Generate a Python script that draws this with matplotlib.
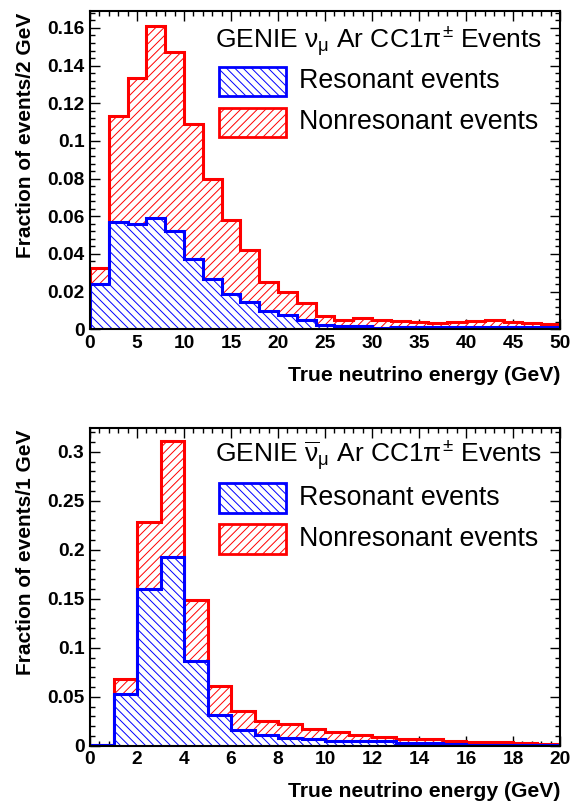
import numpy as np
import matplotlib
matplotlib.use("Agg")
import matplotlib.pyplot as plt
from matplotlib.patches import Rectangle
from matplotlib.ticker import MultipleLocator

plt.rcParams['font.family'] = ['Liberation Sans', 'DejaVu Sans']
plt.rcParams['mathtext.fontset'] = 'custom'
plt.rcParams['mathtext.rm'] = 'Liberation Sans'
plt.rcParams['mathtext.it'] = 'Liberation Sans'
plt.rcParams['mathtext.bf'] = 'Liberation Sans:bold'
plt.rcParams['hatch.linewidth'] = 0.7

# ---- Data: neutrino (top), 2 GeV bins 0-50 ----
nu_edges = np.arange(0, 52, 2)
nu_res = [0.0243, 0.057, 0.0558, 0.0593, 0.0522, 0.0372, 0.0266, 0.019, 0.0145,
          0.0096, 0.0074, 0.0048, 0.0021, 0.0018, 0.0016, 0.0009, 0.0010, 0.0012,
          0.0010, 0.0013, 0.0013, 0.0011, 0.0012, 0.0010, 0.0010]
nu_nonres = [0.0083, 0.056, 0.0777, 0.1017, 0.0948, 0.0718, 0.0534, 0.039, 0.0275,
             0.0154, 0.0126, 0.0092, 0.005, 0.003, 0.0044, 0.0039, 0.0032, 0.0027,
             0.0024, 0.0026, 0.0029, 0.0037, 0.0027, 0.0024, 0.002]

# ---- Data: antineutrino (bottom), 1 GeV bins 0-20 ----
nubar_edges = np.arange(0, 21, 1)
nubar_res = [0.001, 0.0531, 0.1595, 0.1929, 0.0863, 0.0318, 0.016, 0.011, 0.0079,
             0.0065, 0.0051, 0.0048, 0.0044, 0.0031, 0.0027, 0.002, 0.001, 0.001,
             0.001, 0.001]
nubar_nonres = [0.0, 0.0154, 0.0689, 0.1176, 0.0626, 0.029, 0.0192, 0.0147, 0.0143,
                0.0106, 0.0093, 0.0062, 0.0048, 0.0034, 0.0041, 0.0031, 0.0028,
                0.0031, 0.0021, 0.001]

titles = [r"GENIE $\nu_{\mu}$ Ar CC1$\pi^{\pm}$ Events",
          r"GENIE $\overline{\nu}_{\mu}$ Ar CC1$\pi^{\pm}$ Events"]
ylabels = ["Fraction of events/2 GeV", "Fraction of events/1 GeV"]
xlabel = "True neutrino energy (GeV)"
legend_labels = ["Resonant events", "Nonresonant events"]

W, H = 577, 802
fig = plt.figure(figsize=(W / 100, H / 100), dpi=100)

def px_axes(left, top, right, bottom):
    return fig.add_axes([left / W, 1 - bottom / H, (right - left) / W, (bottom - top) / H])

ax1 = px_axes(90, 11, 560, 329.3)
ax2 = px_axes(90, 427.7, 560, 745.7)

configs = [
    (ax1, nu_edges, nu_res, nu_nonres, (0, 50), 0.169, 5, 1, 0.02, 0.004),
    (ax2, nubar_edges, nubar_res, nubar_nonres, (0, 20), 0.3245, 2, 0.4, 0.05, 0.01),
]

for i, (ax, edges, res, nonres, xlim, ymax, xmaj, xmin, ymaj, ymin) in enumerate(configs):
    res = np.array(res)
    tot = res + np.array(nonres)
    # total (stacked) histogram in red
    ax.stairs(tot, edges, fill=True, facecolor='white', edgecolor='red',
              hatch='////', linewidth=0, zorder=2.6)
    ax.stairs(tot, edges, color='red', linewidth=2.2, baseline=0, zorder=2.7)
    # resonant histogram in blue on top
    ax.stairs(res, edges, fill=True, facecolor='white', edgecolor='blue',
              hatch='\\\\\\\\', linewidth=0, zorder=2.8)
    ax.stairs(res, edges, color='blue', linewidth=2.2, baseline=0, zorder=2.9)

    ax.set_xlim(*xlim)
    ax.set_ylim(0, ymax)
    ax.xaxis.set_major_locator(MultipleLocator(xmaj))
    ax.xaxis.set_minor_locator(MultipleLocator(xmin))
    ax.yaxis.set_major_locator(MultipleLocator(ymaj))
    ax.yaxis.set_minor_locator(MultipleLocator(ymin))
    ax.tick_params(which='both', direction='in', top=True, right=True, width=1.0,
                   labelsize=13.8, pad=4)
    ax.tick_params(which='major', length=7)
    ax.tick_params(which='minor', length=3.5)
    ax.yaxis.set_major_formatter(matplotlib.ticker.FuncFormatter(lambda v, p: ('%g' % round(v, 4))))
    for lab in ax.get_xticklabels() + ax.get_yticklabels():
        lab.set_fontweight('bold')
    for sp in ax.spines.values():
        sp.set_linewidth(1.5)
        sp.set_zorder(4)

    ax.set_xlabel(xlabel, fontsize=15.2, fontweight='bold', ha='right', va='center')
    ax.xaxis.set_label_coords(1.0, -(46.0 / 318.3))
    ax.set_ylabel(ylabels[i], fontsize=15.0, fontweight='bold', ha='right', va='center')
    ax.yaxis.set_label_coords(-(64.0 / 470.0), 1.0 - 2.0 / 318.0)

    # legend block
    ax.text(0.266, 0.884 if i == 0 else 0.893, titles[i], transform=ax.transAxes,
            fontsize=19.0, ha='left', va='baseline', zorder=5)
    boxes = [((0.2745, 0.733), 'blue', '\\\\\\\\'), ((0.2745, 0.604), 'red', '////')]
    for (x0, y0), col, hat in boxes:
        ax.add_patch(Rectangle((x0, y0), 0.1425, 0.092, transform=ax.transAxes,
                               facecolor='white', edgecolor=col, hatch=hat,
                               linewidth=2.0, zorder=5))
    ax.text(0.445, 0.779, legend_labels[0], transform=ax.transAxes, fontsize=19.3,
            ha='left', va='center', zorder=5)
    ax.text(0.445, 0.650, legend_labels[1], transform=ax.transAxes, fontsize=19.3,
            ha='left', va='center', zorder=5)

fig.savefig("out.png", dpi=100)
